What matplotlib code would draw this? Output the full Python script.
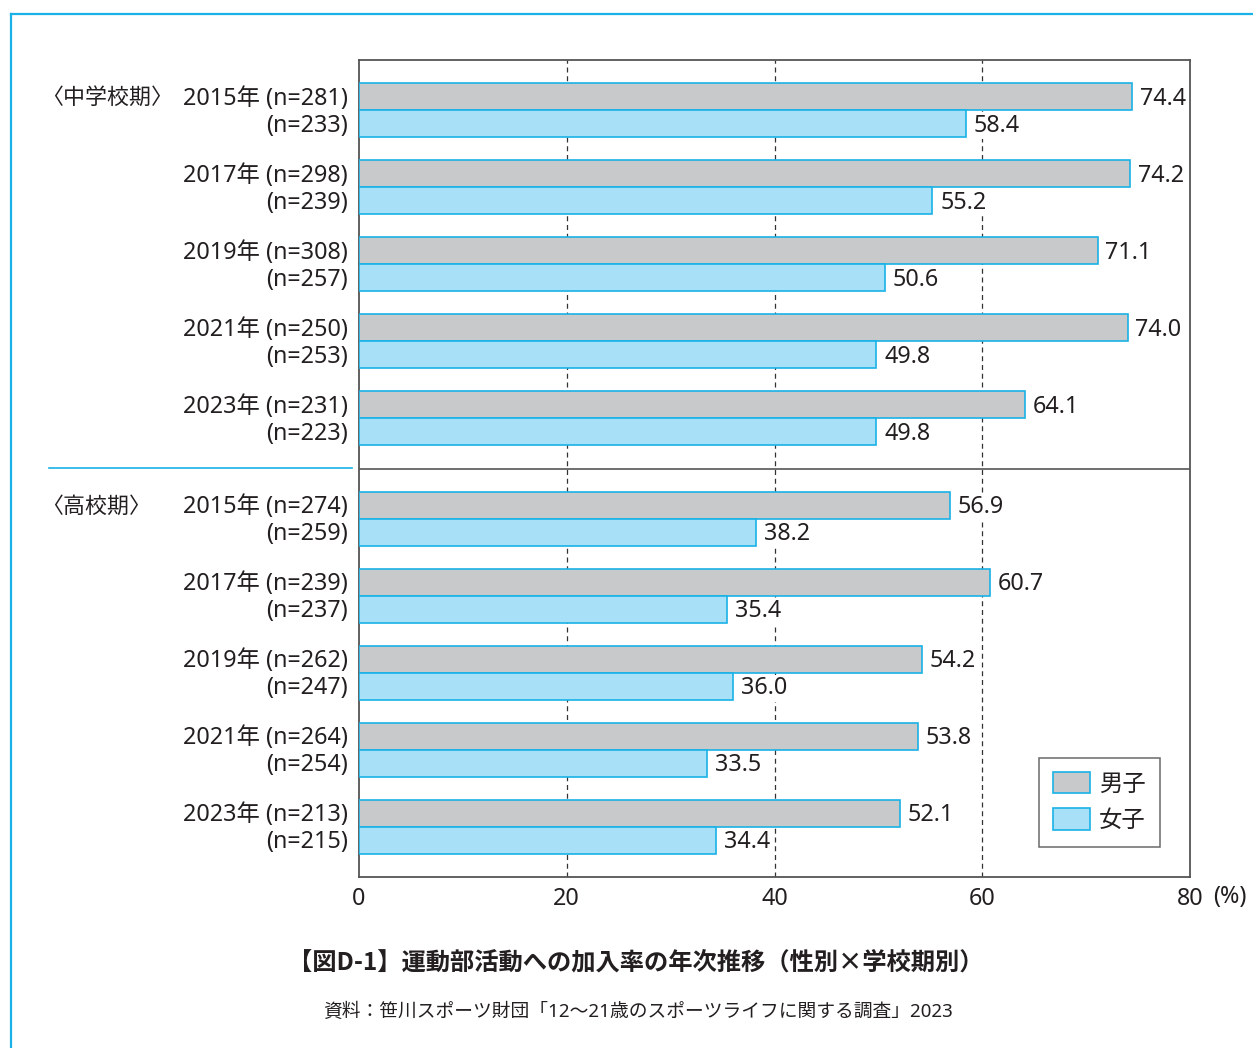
"""Club activity participation rate by year, sex and school stage (horizontal bars)."""

import matplotlib

matplotlib.use("Agg")
import matplotlib.pyplot as plt
from matplotlib.lines import Line2D
from matplotlib.patches import Patch

plt.rcParams["font.family"] = ["Noto Sans", "Noto Sans CJK JP", "DejaVu Sans"]

years = ["2015年", "2017年", "2019年", "2021年", "2023年"]
stages = ["〈中学校期〉", "〈高校期〉"]

# middle school period
jh_boys = [74.4, 74.2, 71.1, 74.0, 64.1]
jh_girls = [58.4, 55.2, 50.6, 49.8, 49.8]
jh_boys_n = [281, 298, 308, 250, 231]
jh_girls_n = [233, 239, 257, 253, 223]

# high school period
hs_boys = [56.9, 60.7, 54.2, 53.8, 52.1]
hs_girls = [38.2, 35.4, 36.0, 33.5, 34.4]
hs_boys_n = [274, 239, 262, 264, 213]
hs_girls_n = [259, 237, 247, 254, 215]

xticks = [0, 20, 40, 60, 80]
legend_labels = ["男子", "女子"]
title = "【図D-1】運動部活動への加入率の年次推移（性別×学校期別）"
source = "資料：笹川スポーツ財団「12～21歳のスポーツライフに関する調査」2023"

GRAY = "#c8c9cb"
BLUE = "#a8e0f8"
EDGE = "#1ab2e6"
TEXT = "#231f20"
FS = 16.8

W, H = 1253, 1048
fig = plt.figure(figsize=(W / 100, H / 100), dpi=100)
ax = fig.add_axes([359 / W, 1 - 877 / H, 831 / W, 817 / H])

bar_h = 27
gap = 23
fig_top = 60  # axes top in pixels
dy = 2  # nudge text down a little to sit centred on the bars
val_box = dict(facecolor="white", edgecolor="none", pad=1)

y = gap
section_y = None
for s, (boys, girls, bn, gn) in enumerate(
    [(jh_boys, jh_girls, jh_boys_n, jh_girls_n), (hs_boys, hs_girls, hs_boys_n, hs_girls_n)]
):
    for i in range(len(years)):
        yb = y + bar_h / 2
        yg = y + bar_h * 1.5
        ax.barh(yb, boys[i], height=bar_h, color=GRAY, edgecolor=EDGE, linewidth=1.2, zorder=3)
        ax.barh(yg, girls[i], height=bar_h, color=BLUE, edgecolor=EDGE, linewidth=1.2, zorder=3)
        ax.text(boys[i] + 0.75, yb + dy, f"{boys[i]:.1f}", va="center", ha="left", fontsize=FS,
                color=TEXT, bbox=val_box, zorder=4)
        ax.text(girls[i] + 0.75, yg + dy, f"{girls[i]:.1f}", va="center", ha="left", fontsize=FS,
                color=TEXT, bbox=val_box, zorder=4)
        ax.text(-1.05, yb + dy, f"{years[i]} (n={bn[i]})", va="center", ha="right",
                fontsize=FS, color=TEXT)
        ax.text(-1.05, yg + dy, f"(n={gn[i]})", va="center", ha="right", fontsize=FS, color=TEXT)
        if i == 0:
            ax.text(-30.6, yb + dy, stages[s], va="center", ha="left", fontsize=15.8, color=TEXT)
        y += 2 * bar_h + gap
    if s == 0:
        section_y = y
        y += gap

ax.axhline(section_y, color="#555555", lw=1.2, zorder=4)
fig.add_artist(Line2D([49 / W, 352 / W], [1 - (fig_top + section_y) / H] * 2,
                      color=EDGE, lw=1.2))

for xv in xticks[1:-1]:
    ax.axvline(xv, color="#333333", lw=0.9, ls=(0, (4, 3)), zorder=1)

ax.set_xlim(0, 80)
ax.set_ylim(y, 0)
ax.set_xticks(xticks)
ax.set_xticklabels([str(v) for v in xticks], fontsize=FS, color=TEXT)
ax.set_yticks([])
ax.tick_params(axis="x", length=0, pad=7)
for sp in ax.spines.values():
    sp.set_color("#555555")
    sp.set_linewidth(1.3)
ax.text(82.2, y + 8, "(%)", fontsize=FS, color=TEXT, ha="left", va="top", clip_on=False)

handles = [Patch(facecolor=GRAY, edgecolor=EDGE, lw=1.2),
           Patch(facecolor=BLUE, edgecolor=EDGE, lw=1.2)]
leg = ax.legend(handles, legend_labels, loc="lower right", bbox_to_anchor=(0.9639, 0.0367),
                borderaxespad=0, fontsize=FS, frameon=True, fancybox=False,
                handlelength=1.6, handleheight=1.05, labelspacing=0.5, borderpad=0.6,
                handletextpad=0.4)
leg.get_frame().set_edgecolor("#444444")
leg.get_frame().set_linewidth(1.1)
for t in leg.get_texts():
    t.set_color(TEXT)

fig.text(636 / W, 1 - 962 / H, title, ha="center", va="center", fontsize=17.5,
         fontweight="bold", color=TEXT, family=["Noto Sans CJK JP", "DejaVu Sans"])
fig.text(638 / W, 1 - 1012 / H, source, ha="center", va="center", fontsize=13.5, color=TEXT)

# cyan page frame
fig.add_artist(Line2D([11 / W, 1.0], [1 - 14 / H] * 2, color=EDGE, lw=1.6))
fig.add_artist(Line2D([11 / W] * 2, [0, 1 - 14 / H], color=EDGE, lw=1.6))

fig.savefig("out.png", dpi=100)
